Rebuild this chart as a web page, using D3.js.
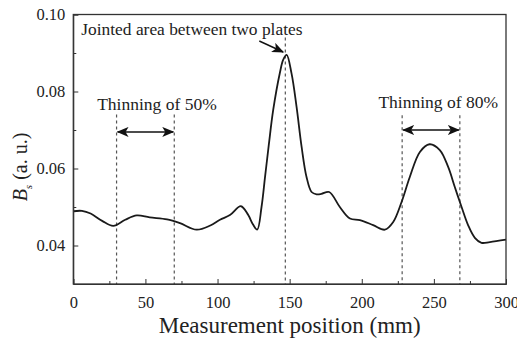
<!DOCTYPE html>
<html>
<head>
<meta charset="utf-8">
<script src="https://cdn.jsdelivr.net/npm/d3@7"></script>
<style>
  body { margin: 0; background: #fff; }
  .axis path, .axis line { stroke: #333; }
</style>
</head>
<body>
<div id="chart"></div>
<script>
var position = [0, 6, 12, 20, 27.7, 36, 44, 53, 65, 74, 85.5, 95, 101.7, 108.6, 116.2, 121.3, 124.5, 127.5,
  130.5, 133, 135.5, 138.6, 143.2, 145.5, 147.9, 151.3, 154.8, 158.3, 161.7, 165.2, 168.7, 172, 177.4,
  184.8, 191.8, 198.7, 207.9, 216, 221.8, 227.6, 233.3, 240.3, 247, 254.1, 259.9, 264.5, 269.2, 273.7,
  278.4, 283, 288.8, 300];
var bs = [0.0489, 0.0490, 0.0483, 0.0464, 0.0451, 0.0467, 0.0478, 0.0473, 0.0468, 0.0458, 0.0441, 0.0452,
  0.0467, 0.0479, 0.0502, 0.0479, 0.0455, 0.0441, 0.0500, 0.0580, 0.0660, 0.0752, 0.0848, 0.0882, 0.0895,
  0.0847, 0.0760, 0.0656, 0.0578, 0.0539, 0.0533, 0.0534, 0.0539, 0.0500, 0.0470, 0.0466, 0.0453, 0.0441,
  0.0461, 0.0513, 0.0578, 0.0643, 0.0663, 0.0648, 0.0604, 0.0552, 0.0500, 0.0453, 0.0420, 0.0407,
  0.0409, 0.0415];

var xTicks = [0, 50, 100, 150, 200, 250, 300];
var xMinor = [25, 75, 125, 175, 225, 275];
var yTicks = [0.04, 0.06, 0.08, 0.10];
var yMinor = [0.05, 0.07, 0.09];

// dashed marker lines: x position and top value
var markerX = [30, 70, 147, 228, 268];
var markerTop = [0.0740, 0.0740, 0.0940, 0.0738, 0.0738];

var regions = [
  { label: "Thinning of 50%", from: 30, to: 70, y: 0.0695, textX: 58 },
  { label: "Thinning of 80%", from: 228, to: 268, y: 0.0700, textX: 253 }
];
var jointLabel = "Jointed area between two plates";

var SERIF = '"Liberation Serif", "Times New Roman", serif';
var w = 517, h = 341;
var margin = { top: 14.5, right: 11, bottom: 57, left: 73.3 };
var iw = w - margin.left - margin.right, ih = h - margin.top - margin.bottom;

var svg = d3.select('#chart').append('svg').attr('width', w).attr('height', h);
var defs = svg.append('defs');
defs.append('marker')
  .attr('id', 'head')
  .attr('viewBox', '0 0 12 10')
  .attr('refX', 11).attr('refY', 5)
  .attr('markerWidth', 12).attr('markerHeight', 10)
  .attr('markerUnits', 'userSpaceOnUse')
  .attr('orient', 'auto-start-reverse')
  .append('path')
  .attr('d', 'M0,0 L12,5 L0,10 L3,5 Z')
  .attr('fill', '#111');

var g = svg.append('g').attr('transform', `translate(${margin.left},${margin.top})`);

var x = d3.scaleLinear().domain([0, 300]).range([0, iw]);
var y = d3.scaleLinear().domain([0.03, 0.10]).range([ih, 0]);

// dashed lines
g.selectAll('.marker')
  .data(markerX)
  .enter().append('line')
  .attr('x1', d => x(d)).attr('x2', d => x(d))
  .attr('y1', (d, i) => y(markerTop[i])).attr('y2', ih)
  .attr('stroke', '#555').attr('stroke-width', 1.2)
  .attr('stroke-dasharray', '3,3');

// curve
var pts = position.map((p, i) => [p, bs[i]]);
var line = d3.line()
  .x(d => x(d[0])).y(d => y(d[1]))
  .curve(d3.curveCatmullRom.alpha(0.5));
g.append('path')
  .attr('d', line(pts))
  .attr('fill', 'none')
  .attr('stroke', '#1a1a1a')
  .attr('stroke-width', 1.8);

// axes, ticks pointing inward
g.append('g').attr('class', 'axis').attr('transform', `translate(0,${ih})`)
  .call(d3.axisBottom(x).tickValues(xTicks).tickSize(-5).tickPadding(12).tickFormat(d3.format('d')));
g.append('g').attr('class', 'axis').attr('transform', `translate(0,${ih})`)
  .call(d3.axisBottom(x).tickValues(xMinor).tickSize(-3).tickFormat(''))
  .select('.domain').remove();
g.append('g').attr('class', 'axis')
  .call(d3.axisLeft(y).tickValues(yTicks).tickSize(-5).tickPadding(8).tickFormat(d3.format('.2f')));
g.append('g').attr('class', 'axis')
  .call(d3.axisLeft(y).tickValues(yMinor).tickSize(-3).tickFormat(''))
  .select('.domain').remove();
g.selectAll('.axis text')
  .style('font-family', SERIF).style('font-size', '16.5px').style('fill', '#222');

g.append('rect')
  .attr('width', iw).attr('height', ih)
  .attr('fill', 'none').attr('stroke', '#333').attr('stroke-width', 1.3);

// region arrows and labels
regions.forEach(function (r) {
  g.append('line')
    .attr('x1', x(r.from) + 1).attr('x2', x(r.to) - 1)
    .attr('y1', y(r.y)).attr('y2', y(r.y))
    .attr('stroke', '#111').attr('stroke-width', 1.6)
    .attr('marker-start', 'url(#head)').attr('marker-end', 'url(#head)');
  g.append('text')
    .attr('x', x(r.textX)).attr('y', y(r.y) - 22)
    .attr('text-anchor', 'middle')
    .style('font-family', SERIF).style('font-size', '17.5px').style('fill', '#222')
    .text(r.label);
});

// joint annotation
g.append('text')
  .attr('x', 8).attr('y', 20.5)
  .style('font-family', SERIF).style('font-size', '17.4px').style('fill', '#222')
  .text(jointLabel);
g.append('line')
  .attr('x1', 186).attr('y1', 26.5)
  .attr('x2', x(145.5)).attr('y2', 37.5)
  .attr('stroke', '#111').attr('stroke-width', 1.4)
  .attr('marker-end', 'url(#head)');

// axis titles
svg.append('text')
  .attr('x', margin.left + iw / 2).attr('y', 333)
  .attr('text-anchor', 'middle')
  .style('font-family', SERIF).style('font-size', '23px').style('fill', '#222')
  .text('Measurement position (mm)');

var yl = svg.append('text')
  .attr('transform', 'translate(27,167) rotate(-90)')
  .attr('text-anchor', 'middle')
  .style('font-family', SERIF).style('font-size', '20px').style('fill', '#222');
yl.append('tspan').style('font-style', 'italic').text('B');
yl.append('tspan').attr('dy', 5).style('font-size', '11px').style('font-style', 'italic').text('s');
yl.append('tspan').attr('dy', -5).text(' (a. u.)');
</script>
</body>
</html>
